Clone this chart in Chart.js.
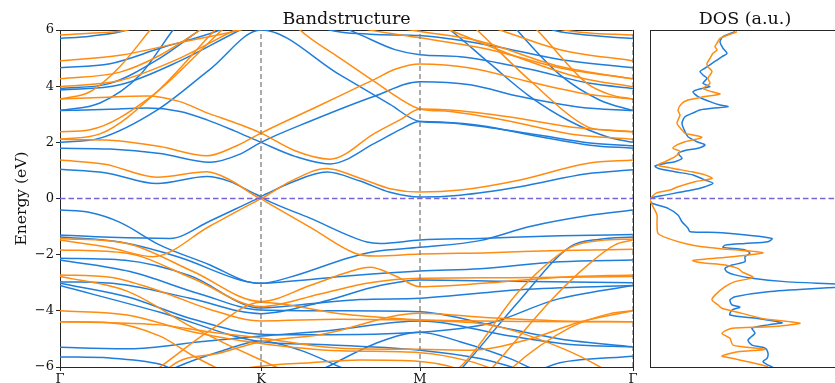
<!DOCTYPE html>
<html>
<head>
<meta charset="utf-8">
<script src="https://cdn.jsdelivr.net/npm/chart.js@4.4.1/dist/chart.umd.min.js"></script>
<style>
  html, body { margin: 0; padding: 0; background: #fff; overflow: hidden; width: 835px; height: 383px; }
  #bands { position: absolute; left: 0; top: 0; }
  #dos { position: absolute; left: 640px; top: 0; }
</style>
</head>
<body>
<canvas id="bands" width="640" height="383"></canvas>
<canvas id="dos" width="200" height="383"></canvas>
<script>
// High-symmetry path (cumulative k distance) and its labels
const kTicks = [0, 2.01, 3.60, 5.73];
const kLabels = ['Γ', 'K', 'M', 'Γ'];
const energyRange = [-6, 6];
const energyStep = 2;
const dosRange = [0, 1.9];

// Bands as [k, E (eV)] pairs, spin up
const upConduction = [
  [[0,1.04],[0.45,0.92],[0.97,0.53],[1.47,0.78],[1.7,0.6],[1.96,0.15],[2.01,0.08],[2.06,0.16],[2.3,0.55],[2.67,0.94],[3.0,0.62],[3.3,0.22],[3.6,0.05],[4.0,0.12],[4.6,0.42],[5.27,0.88],[5.73,1.02]],
  [[0,1.79],[0.5,1.76],[1.0,1.6],[1.5,1.29],[1.8,1.58],[2.01,2.0],[2.5,2.75],[3.15,3.65],[3.6,4.16],[4.1,4.05],[4.6,3.63],[5.2,3.25],[5.73,3.13]],
  [[0,3.13],[0.5,3.18],[0.87,3.22],[1.2,3.1],[1.47,2.8],[1.75,2.4],[2.01,2.0],[2.35,1.5],[2.7,1.23],[3.15,1.97],[3.4,2.45],[3.6,2.74],[3.8,2.72],[4.2,2.6],[4.8,2.2],[5.3,1.9],[5.73,1.79]],
  [[0,2.0],[0.4,2.15],[0.97,3.15],[1.5,4.6],[2.01,6.0],[2.8,4.4],[3.3,3.35],[3.6,2.74],[3.85,2.7],[4.3,2.52],[4.8,2.25],[5.3,1.98],[5.73,1.88]],
  [[0,3.13],[0.4,3.4],[0.8,4.4],[1.13,6.0],[1.4,7.2],[4.3,7.2],[4.57,6.0],[5.0,4.4],[5.4,3.5],[5.73,3.13]],
  [[0,3.86],[0.6,4.05],[1.2,4.9],[1.8,6.0],[2.1,6.5],[2.6,6.4],[2.97,5.88],[3.35,5.3],[3.6,5.12],[4.0,5.05],[4.7,4.6],[5.3,4.1],[5.73,3.92]],
  [[0,3.92],[0.5,4.1],[1.0,5.0],[1.4,6.0],[1.7,6.7],[2.3,6.7],[2.6,6.1],[3.1,5.85],[3.6,5.8],[4.3,5.45],[5.0,4.95],[5.73,4.66]],
  [[0,4.66],[0.5,4.8],[1.0,5.35],[1.6,6.0],[1.9,6.5],[3.5,6.9],[3.9,6.0],[4.3,4.8],[4.7,3.63],[5.1,2.75],[5.47,2.2],[5.73,2.0]],
  [[0,5.7],[0.3,5.78],[0.67,6.0],[0.9,6.4],[4.6,6.6],[4.93,6.0],[5.2,5.85],[5.5,5.75],[5.73,5.7]]
];
const upValence = [
  [[0,-0.41],[0.3,-0.5],[0.6,-0.85],[1.0,-1.66],[1.5,-2.37],[1.87,-2.96],[2.01,-3.02],[2.3,-2.95],[2.9,-2.75],[3.6,-2.58],[4.2,-2.5],[5.0,-2.25],[5.73,-2.19]],
  [[0,-1.3],[0.5,-1.38],[1.1,-1.42],[1.5,-0.8],[1.96,-0.03],[2.01,0.05],[2.06,-0.05],[2.5,-0.7],[3.07,-1.55],[3.2,-1.6],[3.6,-1.48],[4.2,-1.42],[5.0,-1.33],[5.73,-1.28]],
  [[0,-1.37],[0.6,-1.55],[1.2,-2.1],[1.8,-2.9],[2.01,-3.02],[2.3,-2.8],[2.9,-2.1],[3.15,-1.89],[3.6,-1.74],[4.2,-1.5],[4.7,-1.0],[5.3,-0.6],[5.73,-0.41]],
  [[0,-2.13],[0.65,-2.2],[1.3,-2.75],[2.01,-3.9],[2.5,-3.75],[3.0,-3.6],[3.6,-3.55],[4.6,-3.25],[5.73,-3.1]],
  [[0,-2.19],[0.7,-2.6],[1.4,-3.4],[2.01,-3.97],[2.8,-4.0],[3.6,-4.03],[4.3,-4.5],[5.0,-5.0],[5.73,-5.28]],
  [[0,-2.96],[0.6,-3.05],[1.3,-3.55],[2.01,-4.1],[2.6,-3.7],[3.2,-3.1],[3.6,-2.9],[4.5,-2.95],[5.73,-3.0]],
  [[0,-3.02],[0.67,-3.5],[1.33,-4.3],[2.01,-4.83],[2.5,-4.85],[3.6,-4.76],[4.3,-4.44],[4.95,-3.61],[5.73,-3.1]],
  [[0,-3.1],[1.0,-4.05],[2.01,-5.1],[2.6,-5.2],[3.6,-5.4],[4.2,-5.7],[4.8,-6.3]],
  [[0,-5.3],[0.7,-5.35],[1.4,-5.1],[2.01,-4.9],[2.7,-4.7],[3.6,-4.36],[4.5,-4.9],[5.1,-5.2],[5.73,-5.28]],
  [[0,-5.64],[0.5,-5.68],[1.0,-5.9],[1.3,-6.3],[4.6,-6.3],[5.0,-5.85],[5.73,-5.62]],
  [[0.9,-6.5],[1.17,-6.0],[1.6,-5.45],[2.01,-5.07],[2.4,-5.4],[2.8,-6.0],[3.0,-6.3]],
  [[2.4,-6.5],[2.67,-6.0],[3.2,-5.1],[3.6,-4.76],[4.0,-5.1],[4.5,-5.7],[4.8,-6.2]],
  [[3.9,-6.5],[4.03,-6.0],[4.6,-3.61],[5.1,-1.72],[5.4,-1.45],[5.73,-1.37]]
];

// Bands as [k, E (eV)] pairs, spin down
const downConduction = [
  [[0,1.37],[0.45,1.22],[0.97,0.76],[1.47,0.95],[1.7,0.66],[1.96,0.08],[2.01,0.0],[2.06,0.09],[2.3,0.6],[2.67,1.07],[3.0,0.72],[3.3,0.35],[3.6,0.23],[4.0,0.3],[4.6,0.66],[5.27,1.25],[5.73,1.37]],
  [[0,2.11],[0.5,2.07],[1.0,1.85],[1.47,1.52],[1.75,1.85],[2.01,2.33],[2.6,3.32],[3.0,4.0],[3.15,4.25],[3.35,4.6],[3.6,4.79],[4.1,4.65],[4.7,4.15],[5.3,3.7],[5.73,3.54]],
  [[0,3.54],[0.4,3.6],[0.87,3.65],[1.2,3.45],[1.47,3.05],[1.75,2.7],[2.01,2.33],[2.35,1.7],[2.7,1.4],[3.15,2.33],[3.4,2.8],[3.6,3.19],[3.9,3.15],[4.5,2.9],[5.1,2.55],[5.73,2.38]],
  [[0,2.11],[0.4,2.3],[1.0,3.9],[1.55,6.0],[1.9,7.2],[2.1,7.2],[2.4,6.0],[2.8,5.0],[3.15,4.15],[3.4,3.55],[3.6,3.19],[3.9,3.1],[4.5,2.75],[5.1,2.3],[5.73,2.11]],
  [[0,2.38],[0.3,2.45],[0.9,3.6],[1.62,6.0],[2.0,7.2],[3.8,7.2],[4.17,6.0],[4.7,4.2],[5.27,2.56],[5.5,2.42],[5.73,2.38]],
  [[0,3.54],[0.3,3.8],[0.6,4.7],[0.9,6.0],[1.1,6.9],[4.5,6.9],[4.77,6.0],[5.27,4.1],[5.5,3.7],[5.73,3.54]],
  [[0,3.98],[0.6,4.2],[1.2,5.0],[1.75,6.0],[2.01,6.4],[2.6,6.4],[3.1,6.0],[3.6,5.72],[4.3,5.3],[5.0,4.65],[5.73,4.26]],
  [[0,4.26],[0.6,4.5],[1.0,5.1],[1.4,6.0],[1.6,6.5],[3.5,6.6],[3.9,6.0],[4.6,5.0],[5.2,4.3],[5.73,3.98]],
  [[0,4.9],[0.6,5.1],[1.2,5.55],[1.8,6.0],[2.2,6.4],[3.9,6.6],[4.4,6.0],[5.0,5.3],[5.73,4.9]],
  [[0,5.82],[0.3,5.88],[0.67,6.0],[1.0,6.4],[4.5,6.5],[4.9,6.1],[5.2,5.92],[5.73,5.82]],
  [[2.4,7.0],[3.0,6.3],[3.6,5.95],[4.2,5.6],[5.0,4.7],[5.73,4.26]]
];
const downValence = [
  [[0,-1.48],[0.5,-1.75],[0.93,-2.07],[1.5,-0.98],[1.96,-0.1],[2.01,-0.02],[2.06,-0.12],[2.5,-1.02],[2.95,-1.95],[3.15,-2.05],[3.6,-1.98],[4.3,-1.93],[5.0,-1.85],[5.73,-1.81]],
  [[0,-1.42],[0.67,-1.6],[1.33,-2.6],[2.01,-3.67],[2.5,-3.1],[2.9,-2.6],[3.1,-2.45],[3.35,-2.75],[3.6,-3.14],[4.3,-3.0],[5.0,-2.8],[5.73,-2.72]],
  [[0,-1.83],[0.67,-1.95],[1.33,-2.85],[2.01,-3.85],[2.6,-3.4],[3.1,-3.0],[3.6,-2.84],[4.5,-2.82],[5.73,-2.78]],
  [[0,-2.72],[0.5,-2.8],[1.0,-3.3],[1.5,-3.95],[2.01,-4.36],[2.8,-4.3],[3.6,-4.33],[4.6,-4.38],[5.73,-4.39]],
  [[0,-2.78],[0.67,-3.3],[1.33,-4.6],[2.01,-5.75],[2.4,-6.3],[3.7,-6.5],[4.0,-6.0],[4.6,-3.26],[5.1,-1.75],[5.4,-1.5],[5.73,-1.44]],
  [[0,-4.0],[0.67,-4.15],[1.33,-4.75],[2.01,-5.16],[2.8,-5.42],[3.6,-5.49],[4.1,-5.8],[4.5,-6.3]],
  [[0,-4.39],[0.5,-4.42],[1.0,-4.5],[1.5,-4.75],[2.01,-4.97],[2.8,-5.33],[3.6,-5.37],[4.1,-5.4],[4.7,-5.0],[5.2,-4.4],[5.73,-4.0]],
  [[1.0,-6.5],[1.1,-6.0],[1.6,-5.5],[2.01,-5.1],[2.6,-4.85],[3.6,-4.09],[4.3,-4.25],[5.0,-4.36],[5.73,-4.39]],
  [[0,-4.39],[0.5,-4.42],[1.0,-4.9],[1.33,-5.6],[1.6,-6.1],[1.8,-6.5]],
  [[1.6,-6.5],[1.8,-6.1],[2.01,-5.97],[2.5,-5.85],[3.0,-5.75],[3.6,-5.8],[4.0,-6.1],[4.2,-6.5]],
  [[4.2,-6.5],[4.33,-6.0],[4.93,-3.55],[5.3,-2.3],[5.55,-1.65],[5.73,-1.48]],
  [[4.4,-6.5],[4.53,-6.0],[5.1,-4.6],[5.5,-4.1],[5.73,-4.0]],
  [[0.8,-6.5],[1.0,-6.0],[1.5,-4.7],[2.01,-3.69],[2.8,-4.1],[3.6,-4.33],[4.3,-4.5],[5.0,-5.3],[5.4,-6.0],[5.6,-6.5]]
];

// Density of states as [E (eV), DOS (a.u.)]
const dosUp = [
  [5.94,0.85],[5.76,0.73],[5.58,0.70],[5.35,0.73],[5.17,0.77],[5.05,0.72],[4.93,0.67],[4.81,0.62],[4.64,0.55],[4.52,0.50],
  [4.40,0.53],[4.28,0.57],[4.10,0.53],[3.98,0.60],[3.92,0.52],[3.80,0.43],[3.63,0.48],[3.45,0.60],[3.33,0.70],[3.27,0.78],
  [3.21,0.62],[3.15,0.50],[3.03,0.42],[2.91,0.35],[2.68,0.32],[2.38,0.35],[2.20,0.38],[2.02,0.47],[1.91,0.55],[1.79,0.48],
  [1.73,0.37],[1.61,0.28],[1.43,0.32],[1.31,0.25],[1.25,0.15],[1.16,0.05],[1.08,0.08],[0.95,0.25],[0.84,0.43],[0.66,0.55],
  [0.54,0.63],[0.42,0.55],[0.30,0.42],[0.21,0.28],[0.12,0.15],[0.04,0.03],[-0.05,0.0],[-0.17,0.02],[-0.35,0.18],[-0.59,0.28],
  [-0.83,0.32],[-1.06,0.38],[-1.18,0.40],[-1.22,0.72],[-1.42,1.22],[-1.54,1.18],[-1.60,0.95],[-1.66,0.75],[-1.74,0.73],[-1.83,0.95],
  [-1.95,1.00],[-2.07,0.95],[-2.25,0.95],[-2.37,0.82],[-2.49,0.75],[-2.61,0.77],[-2.72,0.85],[-2.84,1.02],[-2.96,1.35],[-3.10,2.05],
  [-3.32,1.18],[-3.50,0.85],[-3.61,0.80],[-3.79,0.82],[-3.87,0.90],[-3.97,0.82],[-4.15,0.80],[-4.27,1.08],[-4.42,1.32],[-4.50,1.18],
  [-4.62,1.02],[-4.80,1.05],[-5.04,0.98],[-5.22,1.02],[-5.33,1.15],[-5.51,1.18],[-5.69,1.17],[-5.81,1.13],[-5.93,1.18],[-6.01,1.23]
];
const dosDown = [
  [5.94,0.87],[5.70,0.70],[5.53,0.67],[5.41,0.65],[5.29,0.67],[5.17,0.63],[4.99,0.60],[4.81,0.57],[4.69,0.58],[4.52,0.62],
  [4.28,0.58],[4.10,0.60],[3.92,0.53],[3.80,0.62],[3.72,0.70],[3.63,0.55],[3.57,0.47],[3.51,0.38],[3.39,0.32],[3.15,0.28],
  [2.97,0.30],[2.68,0.27],[2.44,0.32],[2.32,0.35],[2.26,0.43],[2.18,0.52],[2.08,0.42],[2.02,0.35],[1.91,0.27],[1.79,0.23],
  [1.67,0.30],[1.49,0.25],[1.31,0.15],[1.19,0.08],[1.08,0.22],[0.95,0.42],[0.84,0.55],[0.72,0.62],[0.60,0.45],[0.42,0.28],
  [0.30,0.20],[0.19,0.06],[0.06,0.02],[-0.05,0.0],[-0.29,0.03],[-0.59,0.07],[-0.88,0.07],[-1.24,0.08],[-1.42,0.18],[-1.60,0.35],
  [-1.72,0.52],[-1.81,0.78],[-1.93,1.13],[-2.07,0.82],[-2.21,0.43],[-2.29,0.52],[-2.37,0.75],[-2.49,0.88],[-2.61,0.92],[-2.81,1.03],
  [-2.96,0.85],[-3.14,0.75],[-3.44,0.65],[-3.61,0.62],[-3.79,0.68],[-3.91,0.72],[-4.09,0.92],[-4.27,1.12],[-4.44,1.50],[-4.57,1.18],
  [-4.62,0.82],[-4.80,0.72],[-4.98,0.80],[-5.22,0.83],[-5.37,1.15],[-5.46,0.88],[-5.61,0.72],[-5.69,0.82],[-5.81,0.98],[-5.93,1.12],
  [-5.99,1.18]
];

const BLUE = '#1f7ddb';
const ORANGE = '#ff8c10';
const FERMI = '#7b62d9';
const GUIDE = '#7f7f7f';
const SPINE = '#262626';

Chart.defaults.font.family = "'DejaVu Serif', serif";
Chart.defaults.color = '#111';
Chart.defaults.animation = false;

function bandDataset(band, color) {
  return {
    data: band.map(([k, e]) => ({ x: k, y: e })),
    showLine: true, borderColor: color, borderWidth: 1.5,
    pointRadius: 0, pointHoverRadius: 0, fill: false,
    cubicInterpolationMode: 'monotone', xAxisID: 'x', yAxisID: 'y'
  };
}
function dosDataset(series, color) {
  return {
    data: series.map(([e, d]) => ({ x: d, y: e })),
    showLine: true, borderColor: color, borderWidth: 1.5,
    pointRadius: 0, pointHoverRadius: 0, fill: false, tension: 0.25,
    xAxisID: 'x', yAxisID: 'y'
  };
}
function guideDataset(points, color, dash, width) {
  return {
    data: points, showLine: true, borderColor: color, borderWidth: width,
    borderDash: dash, pointRadius: 0, pointHoverRadius: 0, fill: false,
    tension: 0, xAxisID: 'x', yAxisID: 'y'
  };
}

const outerTicks = { drawOnChartArea: false, drawTicks: true, tickLength: 4, tickColor: SPINE, tickWidth: 1 };
const noTicks = { drawOnChartArea: false, drawTicks: false };
const spine = { display: true, color: SPINE, width: 1 };
const panelTitle = (text) => ({
  display: true, text, color: '#111', fullSize: false,
  font: { size: 17.5, weight: 'normal' }, padding: { top: 8.5, bottom: 0.5 }
});

// Fermi level and high-symmetry guides
const guides = [
  guideDataset([{ x: kTicks[0], y: 0 }, { x: kTicks[3], y: 0 }], FERMI, [5.5, 3], 1.5),
  ...kTicks.slice(1).map(k => guideDataset([{ x: k, y: energyRange[0] }, { x: k, y: energyRange[1] }], GUIDE, [5, 3], 1.3))
];

new Chart(document.getElementById('bands'), {
  type: 'scatter',
  data: {
    datasets: [
      ...guides,
      ...downConduction.map(b => bandDataset(b, ORANGE)),
      ...downValence.map(b => bandDataset(b, ORANGE)),
      ...upConduction.map(b => bandDataset(b, BLUE)),
      ...upValence.map(b => bandDataset(b, BLUE))
    ]
  },
  options: {
    responsive: false,
    devicePixelRatio: 1,
    layout: { padding: { left: 0, right: 7, top: 0, bottom: 0 } },
    elements: { line: { capBezierPoints: false } },
    plugins: { legend: { display: false }, tooltip: { enabled: false }, title: panelTitle('Bandstructure') },
    scales: {
      x: {
        type: 'linear', position: 'bottom', min: kTicks[0], max: kTicks[3],
        afterBuildTicks: s => { s.ticks = kTicks.map(v => ({ value: v })); },
        ticks: { callback: v => kLabels[kTicks.indexOf(v)], font: { size: 13 }, color: '#111', padding: 1, maxRotation: 0, autoSkip: false },
        grid: outerTicks, border: spine,
        afterFit: s => { s.height = 16; }
      },
      y: {
        type: 'linear', position: 'left', min: energyRange[0], max: energyRange[1],
        ticks: { stepSize: energyStep, callback: v => String(v).replace('-', '\u2212'), font: { size: 13 }, color: '#111', padding: 2 },
        grid: outerTicks, border: spine,
        title: { display: true, text: 'Energy (eV)', font: { size: 15.5 }, color: '#111', padding: { top: 13, bottom: 0 } },
        afterFit: s => { s.width = 60; }
      },
      xTop: {
        type: 'linear', position: 'top', min: kTicks[0], max: kTicks[3],
        ticks: { display: false }, grid: noTicks, border: spine,
        afterFit: s => { s.height = 0; }
      },
      yRight: {
        type: 'linear', position: 'right', min: energyRange[0], max: energyRange[1],
        ticks: { display: false }, grid: noTicks, border: spine,
        afterFit: s => { s.width = 0; }
      }
    }
  }
});

new Chart(document.getElementById('dos'), {
  type: 'scatter',
  data: {
    datasets: [
      guideDataset([{ x: dosRange[0], y: 0 }, { x: dosRange[1], y: 0 }], FERMI, [5.5, 3], 1.5),
      dosDataset(dosDown, ORANGE),
      dosDataset(dosUp, BLUE)
    ]
  },
  options: {
    responsive: false,
    devicePixelRatio: 1,
    layout: { padding: 0 },
    elements: { line: { capBezierPoints: false } },
    plugins: { legend: { display: false }, tooltip: { enabled: false }, title: panelTitle('DOS (a.u.)') },
    scales: {
      x: {
        type: 'linear', position: 'bottom', min: dosRange[0], max: dosRange[1],
        ticks: { display: false }, grid: noTicks, border: spine,
        afterFit: s => { s.height = 16; }
      },
      y: {
        type: 'linear', position: 'left', min: energyRange[0], max: energyRange[1],
        ticks: { display: false }, grid: noTicks, border: spine,
        afterFit: s => { s.width = 10; }
      },
      xTop: {
        type: 'linear', position: 'top', min: dosRange[0], max: dosRange[1],
        ticks: { display: false }, grid: noTicks, border: spine,
        afterFit: s => { s.height = 0; }
      }
    }
  }
});
</script>
</body>
</html>
